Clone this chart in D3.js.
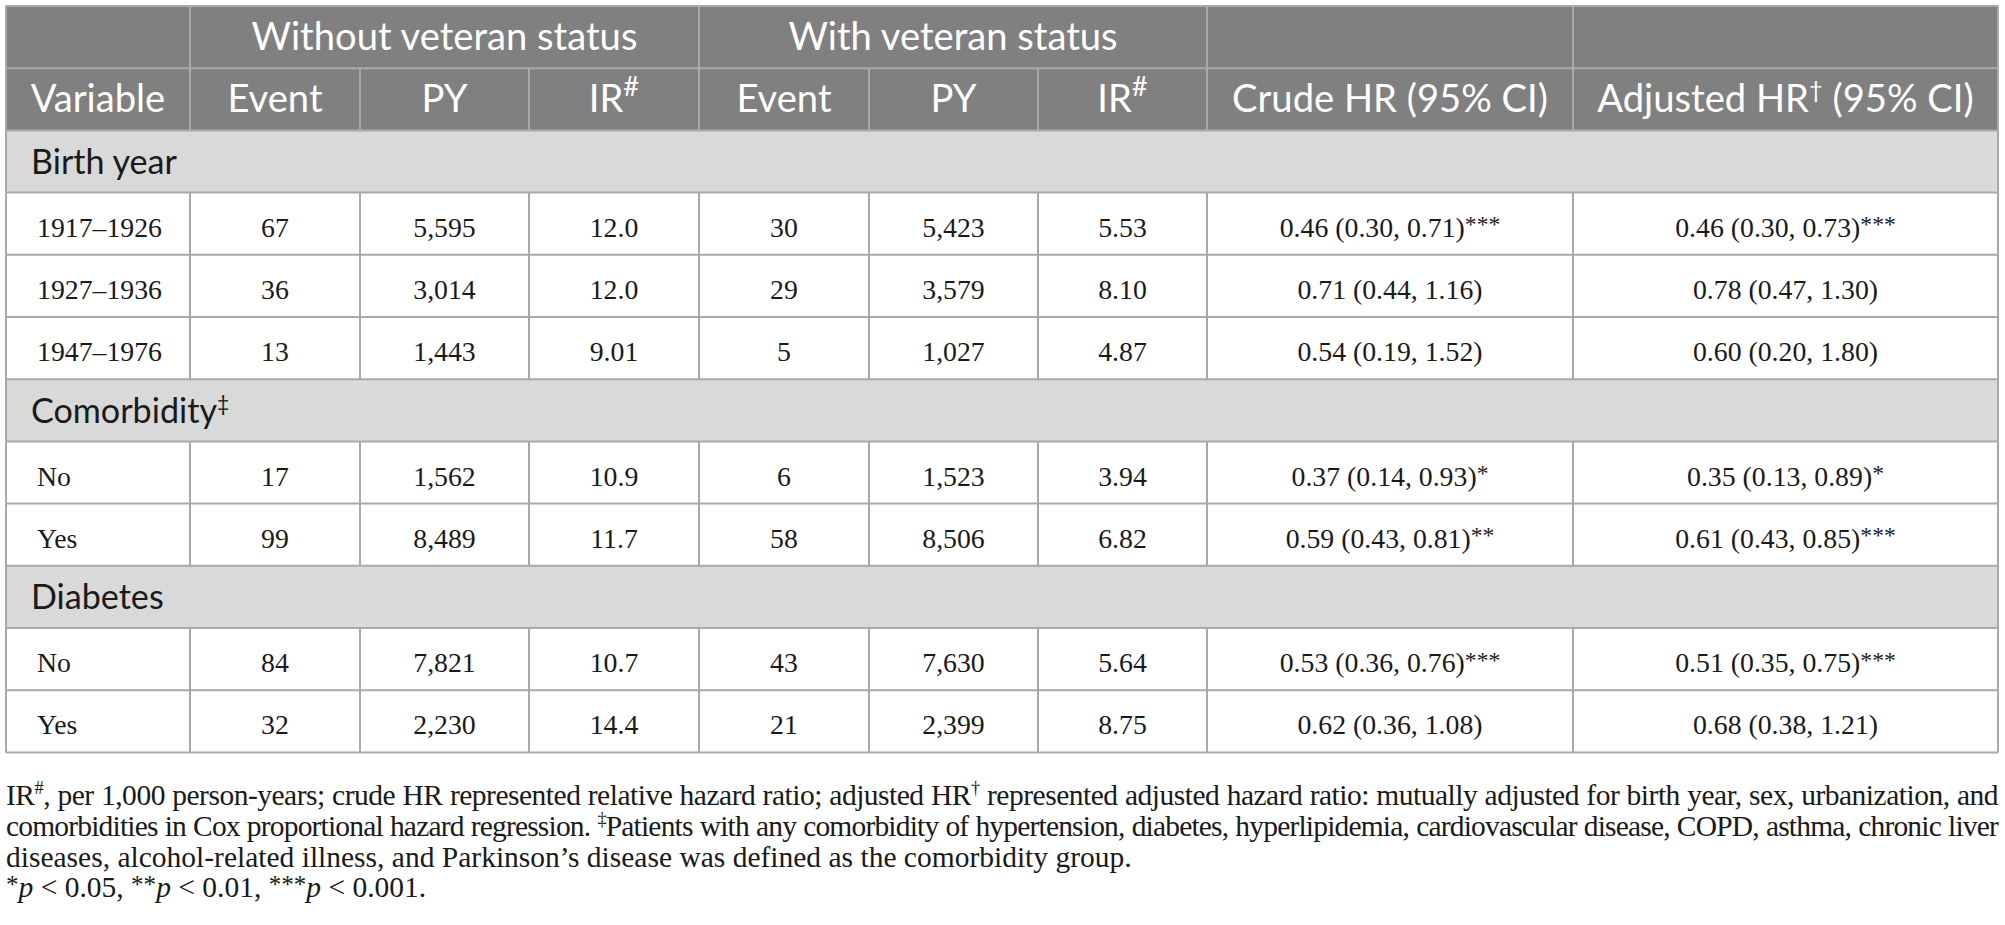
<!DOCTYPE html>
<html><head><meta charset="utf-8">
<script src="https://cdn.jsdelivr.net/npm/d3@7"></script>
<style>
html,body{margin:0;padding:0;background:#fff;}
svg{display:block;}
</style></head><body>
<svg id="chart" width="2005" height="925"></svg>
<script>
// ---------------- DATA ----------------
const groupNames = ["Birth year", "Comorbidity", "Diabetes"];
const groupMarks = ["", "‡", ""];
const groupSizes = [3, 2, 2];
const rowLabels = ["1917–1926", "1927–1936", "1947–1976", "No", "Yes", "No", "Yes"];

const eventWithout = [67, 36, 13, 17, 99, 84, 32];
const pyWithout    = [5595, 3014, 1443, 1562, 8489, 7821, 2230];
const irWithout    = [12.0, 12.0, 9.01, 10.9, 11.7, 10.7, 14.4];

const eventWith = [30, 29, 5, 6, 58, 43, 21];
const pyWith    = [5423, 3579, 1027, 1523, 8506, 7630, 2399];
const irWith    = [5.53, 8.10, 4.87, 3.94, 6.82, 5.64, 8.75];

const crudeHR  = [0.46, 0.71, 0.54, 0.37, 0.59, 0.53, 0.62];
const crudeLo  = [0.30, 0.44, 0.19, 0.14, 0.43, 0.36, 0.36];
const crudeHi  = [0.71, 1.16, 1.52, 0.93, 0.81, 0.76, 1.08];
const crudeSig = ["***", "", "", "*", "**", "***", ""];

const adjHR  = [0.46, 0.78, 0.60, 0.35, 0.61, 0.51, 0.68];
const adjLo  = [0.30, 0.47, 0.20, 0.13, 0.43, 0.35, 0.38];
const adjHi  = [0.73, 1.30, 1.80, 0.89, 0.85, 0.75, 1.21];
const adjSig = ["***", "", "", "*", "***", "***", ""];

const spanHeaders = [
  {label: "", from: 0, to: 1},
  {label: "Without veteran status", from: 1, to: 4},
  {label: "With veteran status", from: 4, to: 7},
  {label: "", from: 7, to: 8},
  {label: "", from: 8, to: 9}
];
const colHeaders = [
  [{t: "Variable"}],
  [{t: "Event"}], [{t: "PY"}], [{t: "IR"}, {t: "#", sup: true, big: true}],
  [{t: "Event"}], [{t: "PY"}], [{t: "IR"}, {t: "#", sup: true, big: true}],
  [{t: "Crude HR (95% CI)"}],
  [{t: "Adjusted HR"}, {t: "†", sup: true}, {t: " (95% CI)"}]
];

const footLines = [
  {justify: true, segs: [{t: "IR"}, {t: "#", sup: true}, {t: ", per 1,000 person-years; crude HR represented relative hazard ratio; adjusted HR"}, {t: "†", sup: true}, {t: " represented adjusted hazard ratio: mutually adjusted for birth year, sex, urbanization, and"}]},
  {justify: true, segs: [{t: "comorbidities in Cox proportional hazard regression. "}, {t: "‡", sup: true}, {t: "Patients with any comorbidity of hypertension, diabetes, hyperlipidemia, cardiovascular disease, COPD, asthma, chronic liver"}]},
  {justify: false, segs: [{t: "diseases, alcohol-related illness, and Parkinson’s disease was defined as the comorbidity group."}]},
  {justify: false, segs: [{t: "*", sup: true, star: true}, {t: "p", it: true}, {t: " < 0.05, "}, {t: "**", sup: true, star: true}, {t: "p", it: true}, {t: " < 0.01, "}, {t: "***", sup: true, star: true}, {t: "p", it: true}, {t: " < 0.001."}]}
];

// ---------------- LAYOUT ----------------
const colEdges = [6, 190, 360, 529, 699, 869, 1038, 1207, 1573, 1998];
const nRows = 12;
const x = d3.scaleLinear().domain(d3.range(colEdges.length)).range(colEdges);
const y = d3.scaleLinear().domain([0, nRows]).range([6, 752.4]);

const SANS = "Lato, 'Open Sans', sans-serif";
const SERIF = "'Liberation Serif', 'DejaVu Serif', serif";
const GRID = "#a9a9a9";
const HEAD_BG = "#808080";
const SEC_BG = "#d9d9d9";

const svg = d3.select("#chart");

function fitSize(text, family, target) {
  const t = svg.append("text").attr("font-family", family).attr("font-size", 100).text(text);
  const w = t.node().getComputedTextLength();
  t.remove();
  return 100 * target / w;
}
const headFs = fitSize("Without veteran status", SANS, 386);
const secFs = fitSize("Birth year", SANS, 146);
const bodyFs = fitSize("1917–1926", SERIF, 125);
const footFs = fitSize("diseases, alcohol-related illness, and Parkinson’s disease was defined as the comorbidity group.", SERIF, 1126);

function rich(sel, segs, fs) {
  let shift = 0;
  segs.forEach(s => {
    const ts = sel.append("tspan").text(s.t);
    if (s.sup) {
      const r = s.star ? 0.16 : (s.big ? 0.42 : 0.36);
      const size = s.star ? 0.85 : (s.big ? 0.72 : 0.62);
      const d = -fs * r - shift;
      ts.attr("dy", d).attr("font-size", fs * size);
      shift = -fs * r;
    } else {
      if (shift !== 0) { ts.attr("dy", -shift); shift = 0; }
    }
    if (s.it) ts.attr("font-style", "italic");
  });
}

// build row model
const rows = [{type: "h1"}, {type: "h2"}];
let di = 0;
groupNames.forEach((g, gi) => {
  rows.push({type: "sec", label: g, mark: groupMarks[gi]});
  for (let k = 0; k < groupSizes[gi]; k++) rows.push({type: "data", i: di++});
});

const fmtInt = d3.format(",");
const fmtIR = d3.format(".3r");
const fmtHR = d3.format(".2f");
function cells(i) {
  return [
    [{t: rowLabels[i]}],
    [{t: String(eventWithout[i])}], [{t: fmtInt(pyWithout[i])}], [{t: fmtIR(irWithout[i])}],
    [{t: String(eventWith[i])}], [{t: fmtInt(pyWith[i])}], [{t: fmtIR(irWith[i])}],
    [{t: `${fmtHR(crudeHR[i])} (${fmtHR(crudeLo[i])}, ${fmtHR(crudeHi[i])})`}].concat(crudeSig[i] ? [{t: crudeSig[i], sup: true, star: true}] : []),
    [{t: `${fmtHR(adjHR[i])} (${fmtHR(adjLo[i])}, ${fmtHR(adjHi[i])})`}].concat(adjSig[i] ? [{t: adjSig[i], sup: true, star: true}] : [])
  ];
}

// backgrounds
svg.append("g").selectAll("rect").data(rows).join("rect")
  .attr("x", x(0)).attr("width", x(9) - x(0))
  .attr("y", (d, r) => y(r)).attr("height", (d, r) => y(r + 1) - y(r))
  .attr("fill", d => d.type === "h1" || d.type === "h2" ? HEAD_BG : d.type === "sec" ? SEC_BG : "#fff");

// text
const tg = svg.append("g");
rows.forEach((d, r) => {
  const cy = (y(r) + y(r + 1)) / 2;
  if (d.type === "h1") {
    spanHeaders.forEach(h => {
      if (!h.label) return;
      tg.append("text").attr("x", (x(h.from) + x(h.to)) / 2).attr("y", cy + 12.5)
        .attr("text-anchor", "middle").attr("font-family", SANS).attr("font-size", headFs)
        .attr("fill", "#fff").text(h.label);
    });
  } else if (d.type === "h2") {
    colHeaders.forEach((segs, c) => {
      const t = tg.append("text").attr("x", (x(c) + x(c + 1)) / 2).attr("y", cy + 12.5)
        .attr("text-anchor", "middle").attr("font-family", SANS).attr("font-size", headFs)
        .attr("fill", "#fff");
      rich(t, segs, headFs);
    });
  } else if (d.type === "sec") {
    const t = tg.append("text").attr("x", x(0) + 25).attr("y", cy + 12.5)
      .attr("font-family", SANS).attr("font-size", secFs).attr("fill", "#1a1a1a");
    rich(t, [{t: d.label}].concat(d.mark ? [{t: d.mark, sup: true}] : []), secFs);
  } else {
    cells(d.i).forEach((segs, c) => {
      const t = tg.append("text").attr("y", cy + 13)
        .attr("font-family", SERIF).attr("font-size", bodyFs).attr("fill", "#1a1a1a");
      if (c === 0) t.attr("x", x(0) + 31);
      else t.attr("x", (x(c) + x(c + 1)) / 2).attr("text-anchor", "middle");
      rich(t, segs, bodyFs);
    });
  }
});

// grid lines
const lg = svg.append("g").attr("stroke", GRID).attr("stroke-width", 2).attr("fill", "none");
d3.range(nRows + 1).forEach(r => {
  lg.append("line").attr("x1", x(0)).attr("x2", x(9)).attr("y1", y(r)).attr("y2", y(r));
});
rows.forEach((d, r) => {
  let edges;
  if (d.type === "h1") edges = [1, 4, 7, 8];
  else if (d.type === "sec") edges = [];
  else edges = d3.range(1, 9);
  edges.concat([0, 9]).forEach(e => {
    lg.append("line").attr("x1", x(e)).attr("x2", x(e)).attr("y1", y(r)).attr("y2", y(r + 1));
  });
});

// footnotes
const fg = svg.append("g");
const target = x(9) - x(0);
footLines.forEach((ln, k) => {
  const t = fg.append("text").attr("x", x(0)).attr("y", 805 + k * 30.8)
    .attr("font-family", SERIF).attr("font-size", footFs).attr("fill", "#1a1a1a");
  rich(t, ln.segs, footFs);
  if (ln.justify) {
    const full = ln.segs.map(s => s.t).join("");
    const spaces = (full.match(/ /g) || []).length;
    const w = t.node().getComputedTextLength();
    const minWs = 0.5;
    if (w + spaces * minWs <= target) {
      t.style("word-spacing", ((target - w) / spaces) + "px");
    } else {
      t.style("word-spacing", minWs + "px");
      const w2 = t.node().getComputedTextLength();
      t.style("letter-spacing", ((target - w2) / full.length) + "px");
    }
  }
});
</script>
</body></html>
